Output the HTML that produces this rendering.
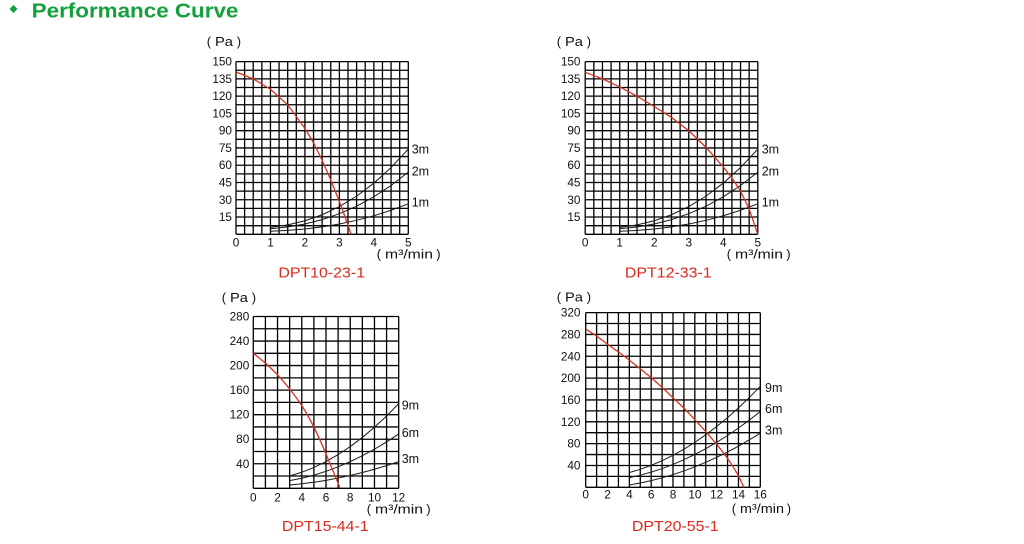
<!DOCTYPE html>
<html><head><meta charset="utf-8"><style>
html,body{margin:0;padding:0;background:#fff;}
svg{display:block;}
text{font-family:"Liberation Sans","Noto Sans CJK SC",sans-serif;}
.t{font-size:11.8px;fill:#111;}
.sl{font-size:12.5px;fill:#111;}
.g{stroke:#000;stroke-width:1.3;fill:none;}
.s{stroke:#1a1a1a;stroke-width:1;fill:none;}
.r{stroke:#d8341f;stroke-width:1.3;fill:none;}
.d{font-size:15px;fill:#d92b1f;}
.u{font-size:13px;fill:#111;}
</style></head><body>
<svg width="1024" height="544" viewBox="0 0 1024 544" xmlns="http://www.w3.org/2000/svg">
<!-- Title -->
<polygon points="13.5,5 17.5,9 13.5,13 9.5,9" fill="#13a03d"/>
<text x="31.7" y="17.5" font-size="20" font-weight="bold" fill="#13a03d" textLength="206.7" lengthAdjust="spacingAndGlyphs">Performance Curve</text>

<!-- ============ Chart 1 ============ -->
<svg x="236" y="61.6" width="172.3" height="172.7" viewBox="0 0 20 20" preserveAspectRatio="none" overflow="visible">
<path class="g" vector-effect="non-scaling-stroke" d="M0 0V20M1 0V20M2 0V20M3 0V20M4 0V20M5 0V20M6 0V20M7 0V20M8 0V20M9 0V20M10 0V20M11 0V20M12 0V20M13 0V20M14 0V20M15 0V20M16 0V20M17 0V20M18 0V20M19 0V20M20 0V20M0 0H20M0 1H20M0 2H20M0 3H20M0 4H20M0 5H20M0 6H20M0 7H20M0 8H20M0 9H20M0 10H20M0 11H20M0 12H20M0 13H20M0 14H20M0 15H20M0 16H20M0 17H20M0 18H20M0 19H20M0 20H20"/>
</svg>
<svg x="236" y="61.6" width="172.3" height="172.7" viewBox="0 0 5 150" preserveAspectRatio="none" overflow="visible">
<polyline class="s" vector-effect="non-scaling-stroke" points="1,144 1.5,141.83 2,138.23 2.5,133 3,125.93 3.5,116.85 4,105.6 4.5,92.03 5,76"/>
<polyline class="s" vector-effect="non-scaling-stroke" points="1,145.2 1.5,143.63 2,141.03 2.5,137.24 3,132.12 3.5,125.56 4,117.42 4.5,107.6 5,96"/>
<polyline class="s" vector-effect="non-scaling-stroke" points="1,147.4 1.5,146.64 2,145.37 2.5,143.53 3,141.05 3.5,137.86 4,133.9 4.5,129.13 5,123.5"/>
<polyline class="r" vector-effect="non-scaling-stroke" points="0,9 0.5,15 1,24 1.5,37.5 2,58 2.25,70.5 2.5,85.7 2.75,102.8 3,121.5 3.15,133.7 3.25,142.1 3.34,150"/>
</svg>
<g class="t" text-anchor="end">
<text x="232" y="221.0">15</text><text x="232" y="203.8">30</text><text x="232" y="186.5">45</text><text x="232" y="169.2">60</text><text x="232" y="152.0">75</text><text x="232" y="134.7">90</text><text x="232" y="117.4">105</text><text x="232" y="100.1">120</text><text x="232" y="82.9">135</text><text x="232" y="65.6">150</text>
</g>
<g class="t" text-anchor="middle">
<text x="236" y="246.7">0</text><text x="270.5" y="246.7">1</text><text x="304.9" y="246.7">2</text><text x="339.4" y="246.7">3</text><text x="373.8" y="246.7">4</text><text x="408.3" y="246.7">5</text>
</g>
<g class="sl">
<text x="411.7" y="153.3">3m</text><text x="411.7" y="175.7">2m</text><text x="411.7" y="206.7">1m</text>
</g>
<g class="u" transform="translate(206.7,46)"><text x="0" y="0">(</text><text x="8.3" y="0" textLength="18" lengthAdjust="spacingAndGlyphs">Pa</text><text x="30" y="0">)</text></g>
<g class="u" transform="translate(376.7,258.5)"><text x="0" y="0">(</text><text x="8.3" y="0" textLength="48" lengthAdjust="spacingAndGlyphs">m³/min</text><text x="59.5" y="0">)</text></g>
<text class="d" x="321.7" y="277.5" text-anchor="middle" textLength="86.7" lengthAdjust="spacingAndGlyphs">DPT10-23-1</text>

<!-- ============ Chart 2 ============ -->
<svg x="585.2" y="61.6" width="172.6" height="172.7" viewBox="0 0 20 20" preserveAspectRatio="none" overflow="visible">
<path class="g" vector-effect="non-scaling-stroke" d="M0 0V20M1 0V20M2 0V20M3 0V20M4 0V20M5 0V20M6 0V20M7 0V20M8 0V20M9 0V20M10 0V20M11 0V20M12 0V20M13 0V20M14 0V20M15 0V20M16 0V20M17 0V20M18 0V20M19 0V20M20 0V20M0 0H20M0 1H20M0 2H20M0 3H20M0 4H20M0 5H20M0 6H20M0 7H20M0 8H20M0 9H20M0 10H20M0 11H20M0 12H20M0 13H20M0 14H20M0 15H20M0 16H20M0 17H20M0 18H20M0 19H20M0 20H20"/>
</svg>
<svg x="585.2" y="61.6" width="172.6" height="172.7" viewBox="0 0 5 150" preserveAspectRatio="none" overflow="visible">
<polyline class="s" vector-effect="non-scaling-stroke" points="1,144 1.5,141.83 2,138.23 2.5,133 3,125.93 3.5,116.85 4,105.6 4.5,92.03 5,76"/>
<polyline class="s" vector-effect="non-scaling-stroke" points="1,145.2 1.5,143.63 2,141.03 2.5,137.24 3,132.12 3.5,125.56 4,117.42 4.5,107.6 5,96"/>
<polyline class="s" vector-effect="non-scaling-stroke" points="1,147.4 1.5,146.64 2,145.37 2.5,143.53 3,141.05 3.5,137.86 4,133.9 4.5,129.13 5,123.5"/>
<polyline class="r" vector-effect="non-scaling-stroke" points="0,9.3 0.5,15 1,22 1.5,30 2,39 2.5,48.5 3,60 3.5,74.5 4,91.5 4.25,101 4.5,112.5 4.75,128 5,150"/>
</svg>
<g class="t" text-anchor="end">
<text x="580.5" y="221.0">15</text><text x="580.5" y="203.8">30</text><text x="580.5" y="186.5">45</text><text x="580.5" y="169.2">60</text><text x="580.5" y="152.0">75</text><text x="580.5" y="134.7">90</text><text x="580.5" y="117.4">105</text><text x="580.5" y="100.1">120</text><text x="580.5" y="82.9">135</text><text x="580.5" y="65.6">150</text>
</g>
<g class="t" text-anchor="middle">
<text x="585.2" y="246.7">0</text><text x="619.7" y="246.7">1</text><text x="654.3" y="246.7">2</text><text x="688.8" y="246.7">3</text><text x="723.3" y="246.7">4</text><text x="757.8" y="246.7">5</text>
</g>
<g class="sl">
<text x="761.7" y="153.3">3m</text><text x="761.7" y="175.7">2m</text><text x="761.7" y="206.7">1m</text>
</g>
<g class="u" transform="translate(556.7,46)"><text x="0" y="0">(</text><text x="8.3" y="0" textLength="18" lengthAdjust="spacingAndGlyphs">Pa</text><text x="30" y="0">)</text></g>
<g class="u" transform="translate(726.7,258.5)"><text x="0" y="0">(</text><text x="8.3" y="0" textLength="48" lengthAdjust="spacingAndGlyphs">m³/min</text><text x="59.5" y="0">)</text></g>
<text class="d" x="668.3" y="277.5" text-anchor="middle" textLength="86.7" lengthAdjust="spacingAndGlyphs">DPT12-33-1</text>

<!-- ============ Chart 3 ============ -->
<svg x="253.3" y="316.5" width="145.4" height="171.8" viewBox="0 0 12 14" preserveAspectRatio="none" overflow="visible">
<path class="g" vector-effect="non-scaling-stroke" d="M0 0V14M1 0V14M2 0V14M3 0V14M4 0V14M5 0V14M6 0V14M7 0V14M8 0V14M9 0V14M10 0V14M11 0V14M12 0V14M0 0H12M0 1H12M0 2H12M0 3H12M0 4H12M0 5H12M0 6H12M0 7H12M0 8H12M0 9H12M0 10H12M0 11H12M0 12H12M0 13H12M0 14H12"/>
</svg>
<svg x="253.3" y="316.5" width="145.4" height="171.8" viewBox="0 0 12 280" preserveAspectRatio="none" overflow="visible">
<polyline class="s" vector-effect="non-scaling-stroke" points="3,260 4,253.9 5,246.05 6,236.4 7,225.1 8,212 9,197.1 10,180.5 11,162.1 12,142"/>
<polyline class="s" vector-effect="non-scaling-stroke" points="3,267.5 4,263.6 5,258.5 6,252.3 7,245 8,236.5 9,226.9 10,216.2 11,204.4 12,191.4"/>
<polyline class="s" vector-effect="non-scaling-stroke" points="3,274.6 4,272.6 5,270.1 6,267 7,263.3 8,259.1 9,254.3 10,248.9 11,243 12,236.5"/>
<polyline class="r" vector-effect="non-scaling-stroke" points="0,60 0.5,67.8 1,76 1.5,85.2 2,95 2.5,106 3,118 3.5,131 4,145 4.5,161.5 5,180 5.5,201 6,224 6.5,248 7,272 7.16,280"/>
</svg>
<g class="t" text-anchor="end">
<text x="249.3" y="467.8">40</text><text x="249.3" y="443.2">80</text><text x="249.3" y="418.7">120</text><text x="249.3" y="394.1">160</text><text x="249.3" y="369.6">200</text><text x="249.3" y="345.1">240</text><text x="249.3" y="320.5">280</text>
</g>
<g class="t" text-anchor="middle">
<text x="253.3" y="501.3">0</text><text x="277.5" y="501.3">2</text><text x="301.8" y="501.3">4</text><text x="326" y="501.3">6</text><text x="350.2" y="501.3">8</text><text x="374.5" y="501.3">10</text><text x="398.7" y="501.3">12</text>
</g>
<g class="sl">
<text x="401.7" y="409.7">9m</text><text x="401.7" y="437">6m</text><text x="401.7" y="463">3m</text>
</g>
<g class="u" transform="translate(221.7,302)"><text x="0" y="0">(</text><text x="8.3" y="0" textLength="18" lengthAdjust="spacingAndGlyphs">Pa</text><text x="30" y="0">)</text></g>
<g class="u" transform="translate(366.7,513.5)"><text x="0" y="0">(</text><text x="8.3" y="0" textLength="48" lengthAdjust="spacingAndGlyphs">m³/min</text><text x="59.5" y="0">)</text></g>
<text class="d" x="325.3" y="531" text-anchor="middle" textLength="86.7" lengthAdjust="spacingAndGlyphs">DPT15-44-1</text>

<!-- ============ Chart 4 ============ -->
<svg x="585.7" y="312.6" width="174.6" height="174.7" viewBox="0 0 16 16" preserveAspectRatio="none" overflow="visible">
<path class="g" vector-effect="non-scaling-stroke" d="M0 0V16M1 0V16M2 0V16M3 0V16M4 0V16M5 0V16M6 0V16M7 0V16M8 0V16M9 0V16M10 0V16M11 0V16M12 0V16M13 0V16M14 0V16M15 0V16M16 0V16M0 0H16M0 1H16M0 2H16M0 3H16M0 4H16M0 5H16M0 6H16M0 7H16M0 8H16M0 9H16M0 10H16M0 11H16M0 12H16M0 13H16M0 14H16M0 15H16M0 16H16"/>
</svg>
<svg x="585.7" y="312.6" width="174.6" height="174.7" viewBox="0 0 16 320" preserveAspectRatio="none" overflow="visible">
<polyline class="s" vector-effect="non-scaling-stroke" points="4,293 5,287.05 6,279.8 7,271.3 8,261.4 9,250.2 10,237.7 11,223.9 12,208.7 13,192.3 14,174.5 15,155.4 16,135"/>
<polyline class="s" vector-effect="non-scaling-stroke" points="4,302.3 5,297.8 6,292.2 7,285.7 8,278.1 9,269.5 10,259.9 11,249.3 12,237.7 13,225.1 14,211.4 15,196.8 16,181.1"/>
<polyline class="s" vector-effect="non-scaling-stroke" points="4,315.7 5,312.1 6,307.8 7,302.6 8,296.7 9,290 10,282.5 11,274.2 12,265.1 13,255.2 14,244.6 15,233.1 16,220.9"/>
<polyline class="r" vector-effect="non-scaling-stroke" points="0,30 1,43 2,58 3,72 4,87 5,103 6,119 7,137 8,156 9,175 10,196 11,218 12,241 12.5,254 13,267 13.5,282 14,299 14.5,320"/>
</svg>
<g class="t" text-anchor="end">
<text x="580.5" y="469.5">40</text><text x="580.5" y="447.6">80</text><text x="580.5" y="425.8">120</text><text x="580.5" y="403.9">160</text><text x="580.5" y="382.1">200</text><text x="580.5" y="360.3">240</text><text x="580.5" y="338.4">280</text><text x="580.5" y="316.6">320</text>
</g>
<g class="t" text-anchor="middle">
<text x="585.7" y="498.7">0</text><text x="607.5" y="498.7">2</text><text x="629.4" y="498.7">4</text><text x="651.2" y="498.7">6</text><text x="673" y="498.7">8</text><text x="694.9" y="498.7">10</text><text x="716.7" y="498.7">12</text><text x="738.5" y="498.7">14</text><text x="760.3" y="498.7">16</text>
</g>
<g class="sl">
<text x="765" y="392">9m</text><text x="765" y="413">6m</text><text x="765" y="434.7">3m</text>
</g>
<g class="u" transform="translate(556.7,301.5)"><text x="0" y="0">(</text><text x="8.3" y="0" textLength="18" lengthAdjust="spacingAndGlyphs">Pa</text><text x="30" y="0">)</text></g>
<g class="u" transform="translate(731.7,513)"><text x="0" y="0">(</text><text x="8.3" y="0" textLength="44" lengthAdjust="spacingAndGlyphs">m³/min</text><text x="55" y="0">)</text></g>
<text class="d" x="675.3" y="531" text-anchor="middle" textLength="86.7" lengthAdjust="spacingAndGlyphs">DPT20-55-1</text>
</svg>
</body></html>
